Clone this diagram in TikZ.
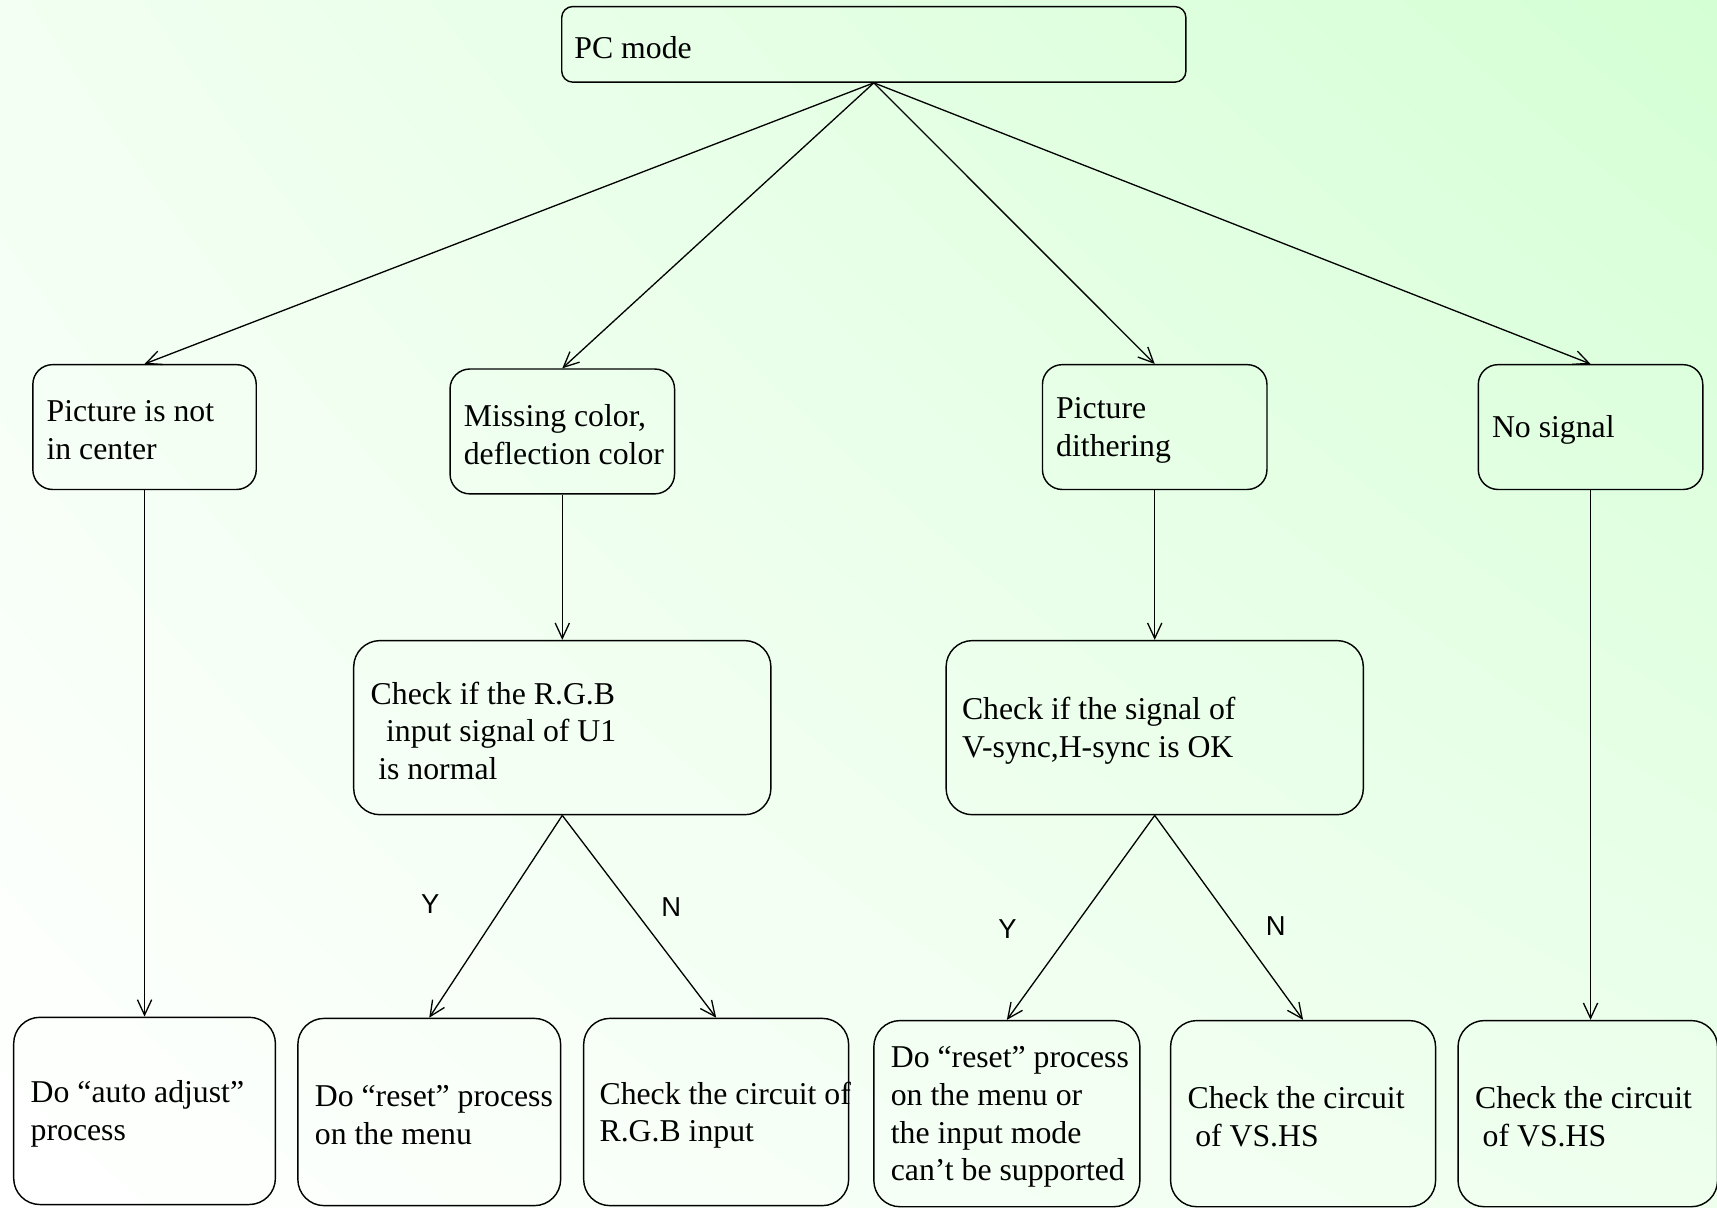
\documentclass[tikz,border=0pt]{standalone}
\usepackage{fontspec}
\setmainfont{Liberation Serif}
\newfontfamily\ynfont{Liberation Sans}
\usetikzlibrary{arrows.meta,shadings}
\definecolor{bgTL}{HTML}{F2FFF2}
\definecolor{bgTR}{HTML}{D4FFD4}
\definecolor{bgBL}{HTML}{FFFFFF}
\definecolor{bgBR}{HTML}{EEFFEE}
\tikzset{
  box/.style={draw, line width=1.3pt, rounded corners=#1, inner sep=0pt},
  txt/.style={anchor=west, align=left, inner sep=0pt, yshift=-3pt, font=\fontsize{29}{34.5}\selectfont},
  yn/.style={font=\ynfont\fontsize{25}{30}\selectfont, inner sep=0pt},
  arr/.style={line width=1.2pt, -{Straight Barb[length=14pt,width=13pt,line width=1.2pt]}}
}
\begin{document}
\begin{tikzpicture}[x=1pt,y=-1pt]
\useasboundingbox (0,0) rectangle (1568,1103);
\shade[upper left=bgTL, upper right=bgTR, lower left=bgBL, lower right=bgBR] (0,0) rectangle (1568,1103);

% top
\node[box=10pt, minimum width=570pt, minimum height=69pt] (pc) at (798,40.5) {};
\node[txt] (pct) at ([xshift=12pt]pc.west) {PC mode};

% level 2
\node[box=18pt, minimum width=204pt, minimum height=114pt] (a) at (132,390) {};
\node[txt] (at) at ([xshift=13pt]a.west) {Picture is not\\in center};
\node[box=18pt, minimum width=205pt, minimum height=114pt] (b) at (513.5,394) {};
\node[txt] (bt) at ([xshift=13pt]b.west) {Missing color,\\deflection color};
\node[box=18pt, minimum width=205pt, minimum height=114pt] (c) at (1054.5,390) {};
\node[txt] (ct) at ([xshift=13pt]c.west) {Picture\\dithering};
\node[box=18pt, minimum width=205pt, minimum height=114pt] (d) at (1452.5,390) {};
\node[txt] (dt) at ([xshift=13pt]d.west) {No signal};

% level 3
\node[box=24pt, minimum width=381pt, minimum height=159pt] (e) at (513.5,664.5) {};
\node[txt] (et) at ([xshift=16pt]e.west) {Check if the R.G.B\\\hspace*{14pt}input signal of U1\\\hspace*{7pt}is normal};
\node[box=24pt, minimum width=381pt, minimum height=159pt] (f) at (1054.5,664.5) {};
\node[txt] (ft) at ([xshift=15pt]f.west) {Check if the signal of\\V-sync,H-sync is OK};

% level 4
\node[box=24pt, minimum width=239pt, minimum height=171pt] (g) at (132,1014.5) {};
\node[txt] (gt) at ([xshift=16pt]g.west) {Do “auto adjust”\\process};
\node[box=24pt, minimum width=240pt, minimum height=171pt] (h) at (392,1015.5) {};
\node[txt] (ht) at ([xshift=16pt]h.west) {Do “reset” process\\on the menu};
\node[box=24pt, minimum width=242pt, minimum height=171pt] (i) at (654,1015.5) {};
\node[txt] (it) at ([xshift=15pt]i.west) {Check the circuit of\\R.G.B input};
\node[box=24pt, minimum width=243pt, minimum height=170pt] (j) at (919.5,1017) {};
\node[txt] (jt) at ([xshift=16pt]j.west) {Do “reset” process\\on the menu or\\the input mode\\can’t be supported};
\node[box=24pt, minimum width=242pt, minimum height=170pt] (k) at (1190,1017) {};
\node[txt] (kt) at ([xshift=16pt]k.west) {Check the circuit\\\hspace*{7pt}of VS.HS};
\node[box=24pt, minimum width=237pt, minimum height=170pt] (l) at (1450,1017) {};
\node[txt] (lt) at ([xshift=16pt]l.west) {Check the circuit\\\hspace*{7pt}of VS.HS};
\coordinate (lin) at (d.south |- l.north);

% connectors
\draw[arr] (pc.south) -- (a.north);
\draw[arr] (pc.south) -- (b.north);
\draw[arr] (pc.south) -- (c.north);
\draw[arr] (pc.south) -- (d.north);
\draw[arr] (a.south) -- (g.north);
\draw[arr] (b.south) -- (e.north);
\draw[arr] (c.south) -- (f.north);
\draw[arr] (d.south) -- (lin);
\draw[arr] (e.south) -- (h.north);
\draw[arr] (e.south) -- (i.north);
\draw[arr] (f.south) -- (j.north);
\draw[arr] (f.south) -- (k.north);

% labels
\node[yn] (y1) at (393,826) {Y};
\node[yn] (n1) at (613,828) {N};
\node[yn] (y2) at (920,848) {Y};
\node[yn] (n2) at (1165,846) {N};
\end{tikzpicture}
\end{document}
